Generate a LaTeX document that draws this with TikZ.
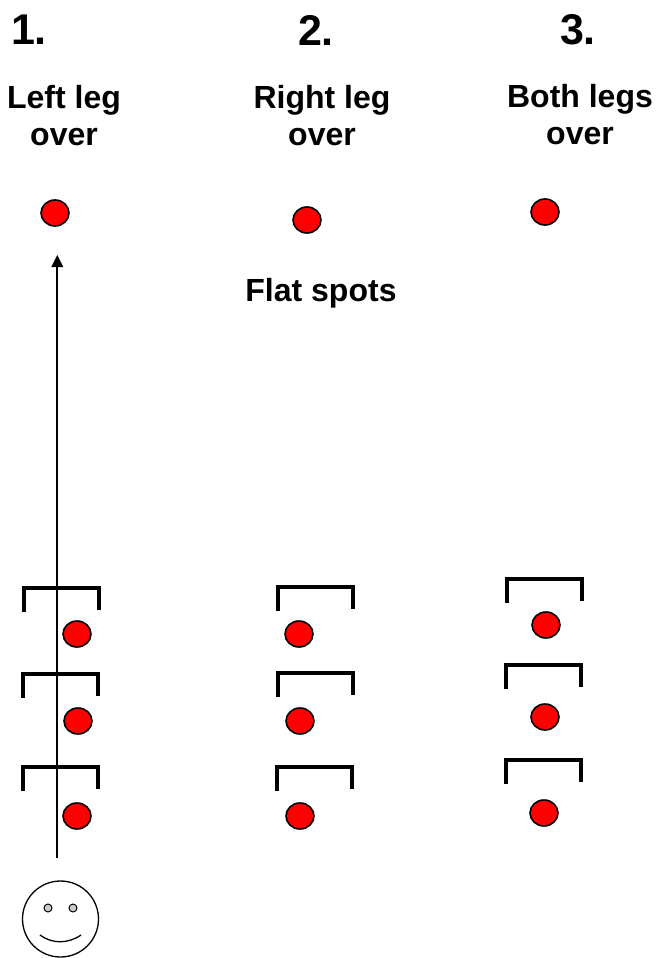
\documentclass[tikz,border=0pt]{standalone}
\usepackage{fontspec}
\usetikzlibrary{shapes.geometric}
\setmainfont{Liberation Sans}
\begin{document}
\begin{tikzpicture}[x=1pt,y=-1pt,
 spot/.style={draw=black,fill=red,ellipse,line width=1.6pt,minimum width=28pt,minimum height=26pt,inner sep=0pt},
 num/.style={font=\fontsize{43}{43}\selectfont\bfseries,inner sep=0pt},
 lab/.style={font=\fontsize{32}{37}\selectfont\bfseries,align=center,inner sep=0pt},
 brk/.style={line width=3.8pt,line join=miter},
 eye/.style={draw=black,fill=black!20,circle,line width=1pt,minimum size=8pt,inner sep=0pt}]
\useasboundingbox (0,0) rectangle (657,958);
\node[num] (n1) at (29,30) {1.};
\node[num] (n2) at (316,30) {2.};
\node[num] (n3) at (578,30) {3.};
\node[lab] (l1) at (64,116) {Left leg\\over};
\node[lab] (l2) at (322,116) {Right leg\\over};
\node[lab] (l3) at (580,115) {Both legs\\over};
\node[lab] (fs) at (321,293) {Flat spots};
\foreach \n/\x/\y in {a/55/213,b/307/220,c/545/212,d/77/634,e/78/721,f/77/816,g/299/634,h/300/721,i/300/816,j/546/625,k/545/717,m/544/813}
  \node[spot] (\n) at (\x,\y) {};
\foreach \x/\y in {24/588,23/674,23/767,278/587,278/673,277/767,507/579,506/665,506/760}
  \draw[brk] (\x,\y+24) -- (\x,\y) -- (\x+75,\y) -- (\x+75,\y+22);
\node[draw=black,circle,line width=1.3pt,minimum size=76pt,inner sep=0pt] (face) at (60.5,919) {};
\node[eye] (e1) at (48,908) {};
\node[eye] (e2) at (73,908) {};
\coordinate (s1) at (40,935);
\coordinate (s2) at (81,935);
\draw[line width=1.3pt] (s1) .. controls (52,944) and (68,944) .. (s2);
\coordinate (t0) at (57.3,858);
\coordinate (t1) at (57.3,266);
\draw[line width=1.8pt] (t0) -- (t1);
\fill (57.3,255) -- (63.3,267) -- (51.3,267) -- cycle;
\end{tikzpicture}
\end{document}
